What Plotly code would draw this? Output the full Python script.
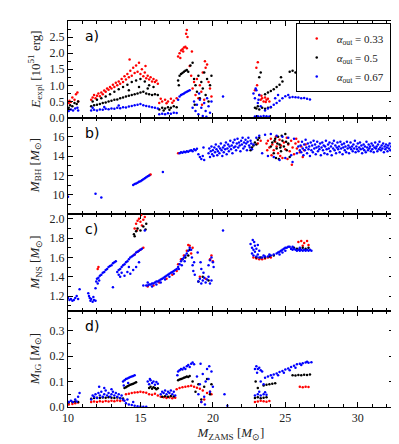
import plotly.graph_objects as go
from plotly.subplots import make_subplots

# values, (M_ZAMS, y) pairs per panel and series
A_RED = [(10.05,0.45),(10.1,0.52),(10.2,0.48),(10.3,0.62),(10.45,0.55),(10.55,0.72),(10.65,0.78),(10.7,0.5),
         (11.6,0.55),(11.7,0.62),(11.8,0.7),(11.9,0.6),(12.0,0.68),(12.1,0.75),(12.2,0.66),(12.3,0.78),(12.4,0.72),
         (12.5,0.84),(12.6,0.8),(12.7,0.9),(12.8,0.86),(12.9,0.95),(13.0,0.9),(13.1,1.02),(13.2,0.95),(13.3,1.08),
         (13.4,1.0),(13.5,1.12),(13.6,1.05),(13.7,1.2),(13.8,1.1),(13.9,1.28),(14.0,1.18),(14.1,1.35),(14.2,1.25),
         (14.3,1.45),(14.4,1.3),(14.5,1.55),(14.6,1.38),(14.7,1.62),(14.8,1.42),(14.9,1.7),(15.0,1.35),(15.1,1.5),
         (15.2,1.28),(15.3,1.4),(15.4,1.22),(15.5,1.3),(15.6,1.18),(15.7,1.25),(15.8,1.12),(15.9,1.2),(16.0,1.1),
         (16.1,1.15),(16.2,1.05),(14.25,1.8),(15.35,1.6),
         (16.3,0.45),(16.5,0.5),(16.7,0.55),(16.9,0.5),(17.1,0.58),(17.3,0.52),(17.5,0.6),(16.4,0.58),(16.8,0.44),(17.2,0.46),
         (17.6,1.9),(17.7,2.0),(17.8,2.08),(17.9,2.12),(18.0,2.18),(18.1,2.2),(18.2,2.15),(17.75,1.85),(17.95,2.05),
         (18.15,2.6),(18.2,2.72),(18.25,2.5),
         (18.4,1.6),(18.5,1.3),(18.6,0.9),(18.7,1.1),(18.8,0.7),(18.9,1.2),(19.0,0.6),(19.1,1.0),(19.2,0.8),(19.3,1.4),
         (19.4,0.55),(19.5,1.55),(19.6,1.65),(19.7,1.1),(19.8,0.9),(19.9,0.65),(18.55,2.05),(19.25,0.4),(19.45,1.75),
         (23.0,1.55),(23.1,1.72),(23.2,0.7),(23.3,0.55),(23.4,0.6),(23.5,0.5),(23.6,0.62),(23.7,0.55),(23.8,0.58),
         (23.9,0.5),(22.9,0.85),(23.05,1.0),(23.35,0.68),(23.65,0.48),
         (26.2,2.1),(26.22,2.2),(26.25,2.15)]

A_BLACK = [(10.05,0.3),(10.15,0.38),(10.3,0.35),(10.45,0.45),(10.6,0.42),(10.7,0.5),
           (11.6,0.35),(11.8,0.38),(12.0,0.4),(12.2,0.42),(12.4,0.45),(12.6,0.47),(12.8,0.5),(13.0,0.52),(13.2,0.55),
           (13.4,0.56),(13.6,0.6),(13.8,0.62),(14.0,0.65),(14.2,0.68),(14.4,0.7),(14.6,0.72),(14.8,0.75),(15.0,0.78),
           (15.2,0.8),(15.4,0.75),(15.6,0.72),(15.8,0.7),(16.0,0.72),(16.2,0.7),
           (11.7,0.5),(12.0,0.55),(12.3,0.6),(12.6,0.65),(12.9,0.72),(13.2,0.8),(13.5,0.88),(13.8,0.95),(14.1,1.02),
           (14.4,1.1),(14.7,1.15),(15.0,1.2),(15.3,1.12),(15.6,1.0),(15.9,0.95),(14.2,0.85),(14.9,0.95),(15.5,0.9),
           (16.3,0.25),(16.5,0.3),(16.7,0.28),(16.9,0.32),(17.1,0.3),(17.3,0.35),(17.5,0.32),(16.6,0.22),(17.0,0.24),
           (17.6,1.15),(17.7,1.3),(17.8,1.35),(17.9,1.38),(18.0,1.42),(18.1,1.45),(18.2,1.48),(18.3,1.42),(18.45,1.62),
           (18.6,1.7),(17.65,1.0),
           (18.7,1.2),(18.8,1.0),(18.9,0.8),(19.0,1.3),(19.1,0.6),(19.2,1.1),(19.3,0.9),(19.4,1.4),(19.5,0.7),(19.6,1.2),
           (19.7,0.5),(19.8,1.0),(19.9,1.3),(18.75,0.4),
           (22.9,0.3),(23.0,0.28),(23.2,0.25),(23.4,0.3),(23.6,0.27),(23.8,0.3),(24.0,0.32),(23.1,0.35),
           (23.6,0.72),(23.8,0.78),(24.0,0.82),(24.2,0.88),(24.4,0.95),(24.6,1.02),(24.8,1.12),(24.7,1.25),(23.2,1.25),(23.3,1.4),
           (25.3,1.42),(25.5,1.45),(25.7,1.4),(25.9,1.38),(26.1,1.35),(26.3,1.3),(26.5,1.25),(26.7,1.22),(26.8,1.18)]

A_BLUE = [(10.05,0.2),(10.2,0.25),(10.35,0.22),(10.5,0.28),(10.65,0.3),(10.7,0.22),
          (11.6,0.22),(11.8,0.24),(12.0,0.22),(12.2,0.25),(12.4,0.24),(12.6,0.27),(12.8,0.26),(13.0,0.28),(13.2,0.27),
          (13.4,0.3),(13.6,0.29),(13.8,0.32),(14.0,0.31),(14.2,0.34),(14.4,0.36),(14.6,0.38),(14.8,0.4),(15.0,0.42),
          (15.2,0.38),(15.4,0.36),(15.6,0.34),(15.8,0.32),(16.0,0.3),(16.2,0.28),(11.7,0.3),(12.5,0.33),(13.5,0.37),
          (16.3,0.1),(16.5,0.12),(16.7,0.1),(16.9,0.13),(17.1,0.12),(17.3,0.15),(17.5,0.14),
          (17.6,0.55),(17.7,0.65),(17.8,0.7),(17.9,0.72),(18.0,0.75),(18.1,0.78),(18.2,0.8),(18.3,0.82),(18.4,0.85),
          (18.6,0.3),(18.7,0.5),(18.8,0.2),(18.9,0.4),(19.0,0.1),(19.1,0.55),(19.2,0.3),(19.3,0.05),(19.4,0.45),
          (19.5,0.2),(19.6,0.6),(19.7,0.35),(19.8,0.15),(19.9,0.5),(19.05,0.75),(19.55,0.02),(20.7,0.65),
          (22.8,0.75),(22.9,0.6),(23.0,0.85),(23.1,0.45),(23.2,0.7),(23.3,0.35),(22.95,0.9),(23.15,0.55),
          (22.9,0.03),(23.1,0.04),(23.3,0.03),(23.5,0.05),(23.7,0.04),(23.9,0.03),
          (23.6,0.22),(23.8,0.28),(24.0,0.33),(24.2,0.4),(24.4,0.45),(24.6,0.52),(24.8,0.6),(25.0,0.66),(25.2,0.7),
          (24.3,0.6),(24.5,0.7),
          (25.3,0.62),(25.5,0.64),(25.7,0.63),(25.9,0.62),(26.1,0.6),(26.3,0.61),(26.5,0.58),(26.7,0.56)]

B_RED = [(15.7,12.1),(15.65,12.05),(17.6,14.3),
         (23.7,15.3),(23.8,15.6),(23.9,14.9),(24.0,15.8),(24.1,15.2),(24.2,14.6),(24.3,15.5),(24.4,15.0),(24.5,14.3),
         (24.6,15.7),(24.7,15.1),(24.8,13.8),(24.9,15.4),(25.0,14.7),(25.1,15.9),(25.2,15.2),(25.3,14.5),(25.4,15.6),
         (25.5,14.9),(25.6,14.2),(25.7,15.3),(25.8,14.8),(25.9,15.5),(26.0,14.4),(26.1,15.0),(26.2,13.9),(26.3,14.6),
         (26.4,15.2),(23.75,14.6),(24.05,14.1),(25.15,13.7),(25.75,15.8),(24.35,16.0),(24.65,14.0),(23.1,15.3),
         (23.3,15.6),(25.45,13.1)]

B_BLACK = [(22.6,14.6),(22.7,14.9),(22.8,15.1),(22.9,15.4),(23.0,15.2),(23.1,15.7),(23.2,15.9),(24.0,15.0),
           (24.1,15.4),(24.2,14.3),(24.3,15.8),(24.4,14.8),(24.5,16.0),(24.6,15.2),(24.7,14.5),(24.8,15.6),
           (24.9,15.0),(25.0,16.3),(25.1,14.6),(25.2,15.3),(25.3,13.9),(24.35,13.8),(24.55,13.7),(24.75,16.1),
           (25.05,15.5),(24.25,15.6),(24.45,15.3),(24.65,14.9)]

B_BLUE = [(10.0,9.8),(11.9,10.1),(12.3,9.7),
          (14.5,11.0),(14.6,11.1),(14.7,11.15),(14.8,11.25),(14.9,11.35),(15.0,11.4),(15.1,11.5),(15.2,11.6),
          (15.3,11.7),(15.4,11.8),(15.5,11.9),(15.6,12.0),(16.55,12.35),
          (17.7,14.3),(17.8,14.4),(17.9,14.35),(18.0,14.45),(18.1,14.4),(18.2,14.5),(18.3,14.45),(18.4,14.55),
          (18.5,14.6),(18.6,14.5),(18.7,14.7),(18.8,14.6),(18.9,14.75),(19.0,14.2),(19.1,13.9),(19.2,13.7),
          (19.3,14.0),(19.4,13.6),(19.35,14.9),
          (19.7,14.3),(19.75,14.8),(19.8,13.9),(19.85,14.5),(19.9,15.0),(19.95,14.2),(20.0,14.6),(20.05,14.0),
          (20.1,14.9),(20.15,14.4),(20.2,15.2),(20.25,14.7),(20.3,14.1),(20.35,14.5),(20.4,15.0),(20.45,14.3),
          (20.5,14.8),(20.55,15.3),(20.6,14.6),(20.65,14.0),(20.7,14.9),(20.75,14.4),(20.8,15.1),(20.85,14.7),
          (20.9,15.4),(20.95,14.2),(21.0,14.8),(21.05,15.2),(21.1,14.5),(21.15,15.0),(21.2,15.6),(21.25,14.7),
          (21.3,15.1),(21.35,14.3),(21.4,15.4),(21.45,14.9),(21.5,15.7),(21.55,15.0),(21.6,14.6),(21.65,15.3),
          (21.7,15.8),(21.75,14.9),(21.8,15.4),(21.85,15.1),(21.9,14.5),(21.95,15.6),(22.0,15.2),(22.05,15.9),
          (22.1,14.8),(22.15,15.4),(22.2,15.0),(22.25,15.7),(22.3,15.3),(22.35,14.6),(22.4,15.5),(22.45,15.9),
          (22.5,15.1),(22.55,14.9),(22.6,15.6),(22.65,15.3),(22.7,14.7),(22.8,15.2),
          (23.0,15.9),(23.2,16.1),(23.4,14.3),(23.6,16.2),(23.8,14.0),(24.0,16.3),(24.2,13.9),(24.4,16.1),
          (24.6,13.6),(24.8,16.0),(25.0,13.8),(25.2,15.9),(25.4,14.1),(25.6,15.8),(25.8,14.3),(25.5,13.4),
          (25.9,15.0),(26.0,14.6),
          (26.05,15.1),(26.1,14.4),(26.15,15.5),(26.2,14.8),(26.25,14.1),(26.3,15.2),(26.35,14.6),(26.4,15.7),
          (26.45,14.9),(26.5,14.3),(26.55,15.3),(26.6,14.7),(26.65,15.0),(26.7,14.0),(26.75,15.4),(26.8,14.6),
          (26.85,15.1),(26.9,14.4),(26.95,15.6),(27.0,14.8),(27.05,15.2),(27.1,14.2),(27.15,14.9),(27.2,15.5),
          (27.25,14.5),(27.3,15.0),(27.35,14.7),(27.4,15.3),(27.45,14.1),(27.5,14.9),(27.55,15.4),(27.6,14.6),
          (27.65,15.1),(27.7,14.3),(27.75,15.0),(27.8,15.6),(27.85,14.7),(27.9,14.2),(27.95,15.2),(28.0,14.8),
          (28.05,15.4),(28.1,14.5),(28.15,15.0),(28.2,14.1),(28.25,15.3),(28.3,14.8),(28.35,15.6),(28.4,14.6),
          (28.45,15.1),(28.5,14.3),(28.55,14.9),(28.6,15.4),(28.65,14.7),(28.7,15.0),(28.75,14.4),(28.8,15.5),
          (28.85,14.8),(28.9,15.2),(28.95,14.2),(29.0,14.9),(29.05,15.3),(29.1,14.6),(29.15,15.0),(29.2,14.4),
          (29.25,15.5),(29.3,14.8),(29.35,15.1),(29.4,14.3),(29.45,14.9),(29.5,15.4),(29.55,14.7),(29.6,15.0),
          (29.65,14.5),(29.7,15.2),(29.75,14.8),(29.8,15.6),(29.85,14.4),(29.9,15.0),(29.95,14.7),(30.0,15.3),
          (30.05,14.5),(30.1,14.9),(30.15,15.4),(30.2,14.7),(30.25,15.1),(30.3,14.3),(30.35,14.8),(30.4,15.2),
          (30.45,14.6),(30.5,15.0),(30.55,14.4),(30.6,15.5),(30.65,14.9),(30.7,14.6),(30.75,15.2),(30.8,14.8),
          (30.85,15.0),(30.9,14.5),(30.95,15.3),(31.0,14.7),(31.05,15.1),(31.1,14.4),(31.15,14.9),(31.2,15.4),
          (31.25,14.8),(31.3,15.0),(31.35,14.5),(31.4,15.2),(31.45,14.7),(31.5,15.5),(31.55,14.9),(31.6,14.6),
          (31.65,15.1),(31.7,14.8),(31.75,15.3),(31.8,14.4),(31.85,15.0),(31.9,14.7),(31.95,15.2),(32.0,14.9),
          (32.05,14.5),(32.1,15.1),(32.15,14.8),(32.2,15.3),(32.25,14.6),(32.3,15.0),(32.35,14.7),(32.4,15.2),
          (32.45,14.9),(32.5,14.6)]

C_RED = [(12.1,1.5),(12.05,1.48),(14.6,1.63),(14.8,1.66),(15.0,1.68),(15.2,1.7),
         (14.6,1.9),(14.7,1.95),(14.8,1.98),(14.9,2.0),(15.0,1.97),(15.1,1.93),(15.2,1.99),(15.3,2.02),(14.75,1.88),(15.05,2.04),
         (15.5,1.3),(15.9,1.31),(16.3,1.34),(16.8,1.38),(17.2,1.42),(17.5,1.46),
         (17.6,1.53),(17.8,1.58),(18.0,1.62),(18.2,1.67),(18.3,1.73),(18.4,1.72),
         (18.5,1.64),(18.6,1.7),(19.1,1.4),(19.5,1.38),(19.8,1.58),(19.9,1.62),(20.0,1.56),
         (22.8,1.6),(23.0,1.59),(23.2,1.58),(23.4,1.58),(23.6,1.59),(23.8,1.6),(24.0,1.6),
         (25.9,1.76),(26.1,1.77),(26.3,1.75),(26.5,1.77),(26.6,1.73),(26.2,1.72)]

C_BLACK = [(14.6,1.82),(14.7,1.87),(14.8,1.9),(15.0,1.88),(15.2,1.92),(15.4,1.95),(15.35,1.89),(14.55,1.84),
           (17.9,1.58),(18.1,1.6),(18.3,1.62),(18.4,1.68),(19.0,1.35),(19.3,1.4),(19.7,1.36),
           (23.0,1.6),(23.3,1.6),(23.6,1.6),(23.9,1.61),(24.2,1.62),
           (25.4,1.69),(25.6,1.7),(25.8,1.69),(26.0,1.69),(26.2,1.7),(26.4,1.69),(26.6,1.7)]

C_BLUE = [(10.0,1.18),(10.1,1.16),(10.2,1.17),(10.3,1.15),(10.4,1.16),(10.5,1.18),(10.6,1.2),(10.7,1.17),(10.8,1.27),
          (11.4,1.23),(11.5,1.18),(11.55,1.15),(11.6,1.17),(11.7,1.14),(11.8,1.16),(11.9,1.15),(11.45,1.2),(11.75,1.19),
          (11.9,1.28),(11.95,1.35),(12.0,1.38),(12.1,1.39),(12.2,1.41),(12.3,1.42),(12.4,1.44),(12.5,1.45),(12.6,1.47),
          (12.7,1.48),(12.8,1.5),(12.9,1.51),(13.0,1.52),(13.1,1.54),(13.2,1.55),(13.3,1.56),(12.05,1.33),(12.15,1.36),(13.1,1.29),
          (13.4,1.45),(13.5,1.47),(13.6,1.48),(13.7,1.5),(13.8,1.52),(13.9,1.53),(14.0,1.55),(14.1,1.56),(14.2,1.58),
          (14.3,1.6),(14.4,1.61),(14.5,1.62),(14.6,1.63),(14.7,1.65),(14.8,1.66),(14.9,1.67),(15.0,1.68),(15.1,1.69),
          (13.5,1.42),(13.7,1.44),(13.9,1.41),(14.1,1.45),(14.3,1.43),(14.5,1.47),(14.7,1.5),(14.9,1.55),(13.6,1.4),(14.2,1.5),
          (15.3,1.88),
          (15.4,1.31),(15.5,1.31),(15.6,1.32),(15.7,1.32),(15.8,1.33),(15.9,1.33),(16.0,1.34),(16.1,1.35),(16.2,1.35),
          (16.3,1.36),(16.4,1.37),(16.5,1.38),(16.6,1.39),(16.7,1.4),(16.8,1.41),(16.9,1.42),(17.0,1.43),(17.1,1.44),
          (17.2,1.45),(17.3,1.46),(17.4,1.47),(17.5,1.48),(15.5,1.34),(15.8,1.3),(16.1,1.32),(16.4,1.34),(16.7,1.37),
          (17.0,1.4),(17.3,1.43),(15.2,1.31),
          (17.6,1.5),(17.7,1.53),(17.8,1.56),(17.9,1.58),(18.0,1.6),(18.1,1.62),(18.2,1.64),(18.3,1.67),(18.4,1.7),
          (17.65,1.48),(17.85,1.52),(18.05,1.56),
          (18.5,1.68),(18.55,1.6),(18.6,1.52),(18.65,1.46),(18.7,1.55),(18.75,1.42),(19.0,1.35),(19.1,1.38),(19.2,1.33),
          (19.3,1.36),(19.4,1.39),(19.5,1.34),(19.6,1.37),(19.7,1.4),(19.8,1.33),(19.9,1.36),(19.7,1.52),(19.8,1.57),
          (19.9,1.6),(20.0,1.55),(20.05,1.5),(19.2,1.48),(19.35,1.44),(19.15,1.55),(18.95,1.65),
          (20.7,1.88),
          (22.6,1.74),(22.7,1.7),(22.75,1.78),(22.8,1.68),(22.85,1.76),(22.9,1.72),(23.0,1.69),(23.1,1.73),(23.2,1.67),
          (22.7,1.64),(22.9,1.66),
          (22.8,1.62),(23.0,1.61),(23.2,1.6),(23.4,1.6),(23.6,1.61),(23.8,1.61),(24.0,1.62),(24.2,1.63),(24.4,1.64),
          (23.1,1.63),(23.5,1.62),(23.9,1.63),
          (24.5,1.65),(24.6,1.66),(24.7,1.67),(24.8,1.68),(24.9,1.69),(25.0,1.7),(25.1,1.7),(25.2,1.71),(25.3,1.71),
          (24.6,1.63),(24.8,1.65),(25.0,1.67),
          (25.4,1.69),(25.5,1.68),(25.6,1.69),(25.7,1.68),(25.8,1.67),(25.9,1.68),(26.0,1.67),(26.1,1.68),(26.2,1.67),
          (26.3,1.68),(26.4,1.67),(26.5,1.68),(26.6,1.67),(26.7,1.68),(26.8,1.67),(25.5,1.71),(26.0,1.7)]

D_RED = [(10.05,0.01),(10.3,0.012),(10.5,0.015),(10.7,0.018),
         (11.6,0.02),(11.8,0.022),(12.0,0.02),(12.2,0.023),(12.4,0.021),(12.6,0.024),(12.8,0.022),(13.0,0.025),
         (13.2,0.023),(13.4,0.026),(13.6,0.024),(13.8,0.027),
         (14.0,0.05),(14.2,0.052),(14.4,0.055),(14.6,0.057),(14.8,0.058),(15.0,0.06),(15.2,0.058),(15.4,0.056),
         (15.6,0.05),(15.8,0.048),(16.0,0.052),(16.2,0.045),(16.4,0.04),(16.6,0.038),(16.8,0.035),(17.0,0.037),
         (17.2,0.034),(17.4,0.036),
         (17.5,0.07),(17.7,0.075),(17.9,0.078),(18.1,0.08),(18.3,0.082),(18.5,0.084),(18.7,0.08),(18.9,0.076),(19.1,0.072),
         (19.2,0.02),(19.4,0.03),(19.6,0.055),(19.8,0.06),(19.9,0.05),(19.3,0.065),
         (22.9,0.02),(23.1,0.022),(23.3,0.025),(23.5,0.023),(23.7,0.021),(23.9,0.024),
         (26.0,0.08),(26.2,0.078),(26.4,0.08),(26.6,0.079)]

D_BLACK = [(10.05,0.018),(10.3,0.02),(10.5,0.022),(10.7,0.02),
           (11.6,0.032),(11.8,0.035),(12.0,0.036),(12.2,0.035),(12.4,0.037),(12.6,0.036),(12.8,0.038),(13.0,0.036),
           (13.2,0.035),(13.4,0.037),(13.6,0.034),(13.8,0.033),
           (13.9,0.075),(14.0,0.078),(14.1,0.082),(14.2,0.085),(14.3,0.088),(14.4,0.09),(14.5,0.092),(14.6,0.095),(14.7,0.097),
           (15.6,0.075),(15.7,0.08),(15.8,0.072),(15.9,0.078),(16.0,0.075),(16.1,0.07),(16.2,0.074),
           (16.5,0.04),(16.7,0.042),(16.9,0.04),(17.1,0.043),(17.3,0.041),
           (17.6,0.105),(17.7,0.108),(17.8,0.11),(17.9,0.112),(18.0,0.115),(18.1,0.117),(18.2,0.12),(18.3,0.118),(18.4,0.122),
           (18.6,0.1),(18.8,0.06),(19.0,0.09),(19.2,0.03),(19.4,0.08),(19.6,0.11),(19.8,0.05),(19.9,0.09),
           (22.9,0.035),(23.1,0.038),(23.3,0.034),(23.5,0.036),(23.7,0.038),
           (23.5,0.085),(23.7,0.088),(23.9,0.09),(24.1,0.092),(24.3,0.094),(22.95,0.1),(23.1,0.075),
           (25.5,0.125),(25.7,0.124),(25.9,0.126),(26.1,0.125),(26.3,0.127),(26.5,0.126),(26.7,0.128)]

D_BLUE = [(10.05,0.02),(10.2,0.025),(10.35,0.02),(10.5,0.03),(10.6,0.022),(10.8,0.055),(10.7,0.04),
          (11.6,0.03),(11.7,0.045),(11.8,0.04),(11.9,0.05),(12.0,0.035),(12.1,0.055),(12.2,0.045),(12.3,0.06),
          (12.4,0.04),(12.5,0.05),(12.6,0.065),(12.7,0.045),(12.8,0.055),(12.9,0.04),(13.0,0.05),(13.1,0.06),
          (13.2,0.045),(13.3,0.055),(13.4,0.04),(13.5,0.05),(13.6,0.035),(13.7,0.045),(13.8,0.03),(12.15,0.08),
          (12.5,0.075),(13.0,0.07),
          (13.9,0.025),(14.0,0.015),(14.2,0.01),(14.4,0.008),(14.6,0.005),(14.8,0.003),(15.0,0.002),(15.2,0.001),
          (15.4,0.001),(14.1,0.03),(14.5,0.02),
          (13.8,0.1),(13.9,0.105),(14.0,0.11),(14.1,0.112),(14.2,0.115),(14.3,0.118),(14.4,0.12),(14.5,0.122),
          (14.6,0.125),(13.85,0.085),(14.15,0.095),
          (15.5,0.1),(15.6,0.09),(15.7,0.105),(15.8,0.095),(15.9,0.1),(16.0,0.088),(16.1,0.098),(16.2,0.092),(15.65,0.11),
          (16.4,0.05),(16.5,0.06),(16.6,0.055),(16.7,0.065),(16.8,0.05),(16.9,0.06),(17.0,0.055),(17.1,0.065),
          (17.2,0.05),(17.3,0.06),(17.4,0.045),
          (17.6,0.14),(17.7,0.145),(17.8,0.15),(17.9,0.148),(18.0,0.155),(18.1,0.15),(18.2,0.16),(18.3,0.165),
          (18.4,0.158),(18.5,0.17),(18.6,0.175),(18.7,0.168),(17.55,0.125),
          (18.9,0.12),(19.0,0.05),(19.1,0.09),(19.2,0.02),(19.3,0.13),(19.4,0.04),(19.5,0.1),(19.6,0.15),(19.7,0.11),
          (19.8,0.06),(19.9,0.14),(20.0,0.08),(19.15,0.17),(19.45,0.01),(19.75,0.16),
          (20.8,0.05),(21.0,0.005),
          (22.9,0.15),(23.0,0.16),(23.1,0.15),(23.2,0.155),(23.3,0.145),(23.4,0.14),(23.05,0.135),
          (22.9,0.045),(23.1,0.05),(23.3,0.045),(23.5,0.05),(23.7,0.048),(23.2,0.06),(23.6,0.058),
          (23.6,0.115),(23.8,0.12),(24.0,0.125),(24.2,0.128),(24.4,0.132),(24.6,0.138),(24.8,0.142),(25.0,0.148),
          (25.2,0.152),(25.4,0.158),(25.6,0.162),(25.8,0.168),(26.0,0.17),(26.2,0.172),(26.4,0.175),(26.6,0.174),
          (26.8,0.176),(24.1,0.115),(24.5,0.125),(24.9,0.135),(25.3,0.145),(25.7,0.155),(26.1,0.165),(26.5,0.178),
          (23.5,0.09),(23.3,0.1)]

SERIES_NAMES = ["<i>α</i><sub>out</sub> = 0.33", "<i>α</i><sub>out</sub> = 0.5", "<i>α</i><sub>out</sub> = 0.67"]
COLORS = ["#ff0000", "#000000", "#0000ff"]
PANELS = [(A_RED, A_BLACK, A_BLUE), (B_RED, B_BLACK, B_BLUE), (C_RED, C_BLACK, C_BLUE), (D_RED, D_BLACK, D_BLUE)]
PANEL_TAGS = ["a)", "b)", "c)", "d)"]
Y_TITLES = ["<i>E</i><sub>expl</sub> [10<sup>51</sup> erg]",
            "<i>M</i><sub>BH</sub> [<i>M</i><sub>⊙</sub>]",
            "<i>M</i><sub>NS</sub> [<i>M</i><sub>⊙</sub>]",
            "<i>M</i><sub>IG</sub> [<i>M</i><sub>⊙</sub>]"]
Y_RANGES = [[0, 3.0], [8, 18], [1.05, 2.05], [0, 0.38]]
Y_TICKS = [[0, 0.5, 1.0, 1.5, 2.0, 2.5], [10, 12, 14, 16], [1.2, 1.4, 1.6, 1.8, 2.0], [0, 0.1, 0.2, 0.3]]
Y_TICKTEXT = [["0.0", "0.5", "1.0", "1.5", "2.0", "2.5"], ["10", "12", "14", "16"],
              ["1.2", "1.4", "1.6", "1.8", "2.0"], ["0.0", "0.1", "0.2", "0.3"]]
Y_MINOR = [0.25, 1, 0.1, 0.05]

SERIF = "Liberation Serif"

fig = make_subplots(rows=4, cols=1, shared_xaxes=True, vertical_spacing=0)

for i, panel in enumerate(PANELS):
    for j, pts in enumerate(panel):
        fig.add_trace(go.Scatter(
            x=[p[0] for p in pts],
            y=[p[1] for p in pts],
            mode="markers",
            marker=dict(size=2.5, color=COLORS[j], line=dict(width=0)),
            name=SERIES_NAMES[j],
            showlegend=(i == 0),
        ), row=i + 1, col=1)

    fig.update_yaxes(
        range=Y_RANGES[i], tickvals=Y_TICKS[i], ticktext=Y_TICKTEXT[i],
        ticks="inside", ticklen=5, tickcolor="black", mirror="ticks",
        showline=True, linecolor="black", linewidth=1, showgrid=False, zeroline=False,
        minor=dict(ticks="inside", ticklen=3, dtick=Y_MINOR[i], tick0=0, tickcolor="black", showgrid=False),
        tickfont=dict(family=SERIF, size=12, color="#222"),
        row=i + 1, col=1)

    # panel tag and y title
    fig.add_annotation(text=PANEL_TAGS[i], xref="x domain", yref="y domain" if i == 0 else f"y{i+1} domain",
                       x=0.045, y=0.84, xanchor="left", yanchor="middle", showarrow=False,
                       font=dict(family="DejaVu Sans", size=14, color="black"))
    y0, y1 = fig.layout[f"yaxis{'' if i == 0 else i + 1}"].domain
    fig.add_annotation(text=Y_TITLES[i], xref="paper", yref="paper",
                       x=-0.1, y=(y0 + y1) / 2, xanchor="center", yanchor="middle",
                       textangle=-90, showarrow=False,
                       font=dict(family=SERIF, size=13, color="#222"))

fig.update_xaxes(
    range=[10, 32.5], tickvals=[10, 15, 20, 25, 30],
    ticks="inside", ticklen=5, tickcolor="black", mirror="ticks",
    showline=True, linecolor="black", linewidth=1, showgrid=False, zeroline=False,
    minor=dict(ticks="inside", ticklen=3, dtick=1, tick0=10, tickcolor="black", showgrid=False),
    tickfont=dict(family=SERIF, size=12, color="#222"))

fig.update_xaxes(title=dict(text="<i>M</i><sub>ZAMS</sub> [<i>M</i><sub>⊙</sub>]",
                            font=dict(family=SERIF, size=13, color="#222"), standoff=2),
                 row=4, col=1)

fig.update_layout(
    width=399, height=444,
    margin=dict(l=60, r=13, t=13, b=45),
    plot_bgcolor="white", paper_bgcolor="white",
    legend=dict(x=0.99, y=0.995, xanchor="right", yanchor="top",
                bgcolor="white", bordercolor="black", borderwidth=1,
                font=dict(family=SERIF, size=11, color="#222"),
                itemwidth=30, tracegroupgap=0),
)

fig.write_html("out.html")
